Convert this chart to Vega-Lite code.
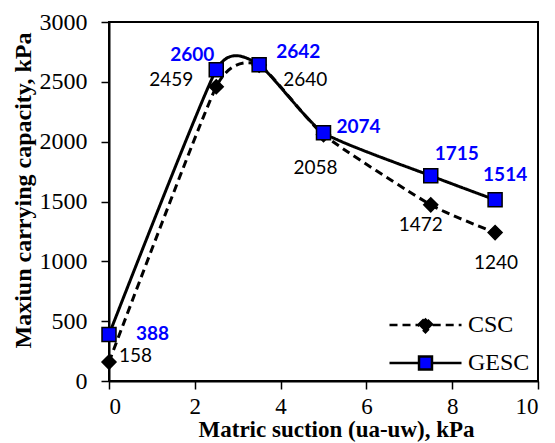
{
  "$schema": "https://vega.github.io/schema/vega-lite/v6.json",
  "width": 429,
  "height": 359,
  "autosize": {"type": "none"},
  "padding": {"left": 109, "top": 22, "right": 17, "bottom": 62},
  "background": "white",
  "config": {
    "view": {"stroke": "black", "strokeWidth": 2},
    "axis": {
      "domainColor": "black", "domainWidth": 2, "tickColor": "black", "tickWidth": 1.5, "tickSize": 8,
      "labelFont": "Liberation Serif", "labelFontSize": 24, "labelColor": "black",
      "titleFont": "Liberation Serif", "titleFontWeight": "bold", "titleColor": "black",
      "grid": false, "format": "d"
    }
  },
  "data": {"values": [
    {"series": "CSC", "x": 0, "y": 158},
    {"series": "CSC", "x": 2.5, "y": 2459},
    {"series": "CSC", "x": 3.5, "y": 2640},
    {"series": "CSC", "x": 5, "y": 2058},
    {"series": "CSC", "x": 7.5, "y": 1472},
    {"series": "CSC", "x": 9, "y": 1240},
    {"series": "GESC", "x": 0, "y": 388},
    {"series": "GESC", "x": 2.5, "y": 2600},
    {"series": "GESC", "x": 3.5, "y": 2642},
    {"series": "GESC", "x": 5, "y": 2074},
    {"series": "GESC", "x": 7.5, "y": 1715},
    {"series": "GESC", "x": 9, "y": 1514}
  ]},
  "encoding": {
    "x": {"field": "x", "type": "quantitative", "scale": {"domain": [0, 10], "nice": false},
      "axis": {"values": [0, 2, 4, 6, 8, 10], "labelFontSize": 23, "labelPadding": 6, "titlePadding": 0, "titleFontSize": 23, "titleX": 227, "title": "Matric suction (ua-uw), kPa"}},
    "y": {"field": "y", "type": "quantitative", "scale": {"domain": [0, 3000], "nice": false},
      "axis": {"values": [0, 500, 1000, 1500, 2000, 2500, 3000], "labelPadding": 14, "titlePadding": 4, "titleFontSize": 24, "titleY": 168, "title": "Maxiun carrying capacity, kPa"}}
  },
  "layer": [
    {
      "mark": {"type": "line", "interpolate": "cardinal", "tension": 0.45, "color": "black", "strokeWidth": 3},
      "encoding": {
        "detail": {"field": "series"},
        "strokeDash": {"field": "series", "type": "nominal",
          "scale": {"domain": ["CSC", "GESC"], "range": [[8, 5], [1, 0]]},
          "legend": {
            "title": null, "orient": "none", "legendX": 279, "legendY": 284,
            "symbolType": "M-1,0H-0.18M-0.18,-0.18H0.18V0.18H-0.18ZM0.18,0H1",
            "symbolSize": 5184, "symbolStrokeWidth": 2.5, "symbolStrokeColor": "black",
            "labelFont": "Liberation Serif", "labelFontSize": 24, "labelColor": "black", "labelOffset": 5,
            "rowPadding": 0, "clipHeight": 38,
            "encode": {"symbols": {"update": {
              "shape": {"signal": "datum.value === 'CSC' ? 'M-1,0H-0.2M-0.2,0L0,-0.2L0.2,0L0,0.2ZM0.2,0H1' : 'M-1,0H-0.18M-0.18,-0.18H0.18V0.18H-0.18ZM0.18,0H1'"},
              "fill": {"signal": "datum.value === 'CSC' ? 'black' : '#0000FF'"},
              "stroke": {"value": "black"},
              "fillOpacity": {"value": 1}
            }}}
          }}
      }
    },
    {
      "transform": [{"filter": "datum.series === 'CSC'"}],
      "mark": {"type": "point", "shape": "diamond", "filled": true, "fill": "black", "stroke": "black", "strokeWidth": 1.5, "opacity": 1, "size": 196},
      "encoding": {}
    },
    {
      "transform": [{"filter": "datum.series === 'GESC'"}],
      "mark": {"type": "point", "shape": "square", "filled": true, "fill": "#0000FF", "stroke": "black", "strokeWidth": 1.5, "opacity": 1, "size": 196},
      "encoding": {}
    },
    {"transform": [{"filter": "datum.series === 'GESC' && datum.x === 0"}],
     "mark": {"type": "text", "font": "Lato", "fontSize": 19, "fontWeight": "bold", "color": "#0000FF", "align": "left", "baseline": "middle", "dx": 27, "dy": -1},
     "encoding": {"text": {"field": "y"}}},
    {"transform": [{"filter": "datum.series === 'GESC' && datum.x === 2.5"}],
     "mark": {"type": "text", "font": "Lato", "fontSize": 19, "fontWeight": "bold", "color": "#0000FF", "align": "right", "baseline": "middle", "dx": -2, "dy": -15},
     "encoding": {"text": {"field": "y"}}},
    {"transform": [{"filter": "datum.series === 'GESC' && datum.x === 3.5"}],
     "mark": {"type": "text", "font": "Lato", "fontSize": 19, "fontWeight": "bold", "color": "#0000FF", "align": "left", "baseline": "middle", "dx": 17, "dy": -13},
     "encoding": {"text": {"field": "y"}}},
    {"transform": [{"filter": "datum.series === 'GESC' && datum.x === 5"}],
     "mark": {"type": "text", "font": "Lato", "fontSize": 19, "fontWeight": "bold", "color": "#0000FF", "align": "left", "baseline": "middle", "dx": 13, "dy": -6},
     "encoding": {"text": {"field": "y"}}},
    {"transform": [{"filter": "datum.series === 'GESC' && datum.x === 7.5"}],
     "mark": {"type": "text", "font": "Lato", "fontSize": 19, "fontWeight": "bold", "color": "#0000FF", "align": "left", "baseline": "middle", "dx": 4, "dy": -22},
     "encoding": {"text": {"field": "y"}}},
    {"transform": [{"filter": "datum.series === 'GESC' && datum.x === 9"}],
     "mark": {"type": "text", "font": "Lato", "fontSize": 19, "fontWeight": "bold", "color": "#0000FF", "align": "left", "baseline": "middle", "dx": -12, "dy": -25},
     "encoding": {"text": {"field": "y"}}},
    {"transform": [{"filter": "datum.series === 'CSC' && datum.x === 0"}],
     "mark": {"type": "text", "font": "Lato", "fontSize": 19, "color": "black", "align": "left", "baseline": "middle", "dx": 10, "dy": -6},
     "encoding": {"text": {"field": "y"}}},
    {"transform": [{"filter": "datum.series === 'CSC' && datum.x === 2.5"}],
     "mark": {"type": "text", "font": "Lato", "fontSize": 19, "color": "black", "align": "right", "baseline": "middle", "dx": -23, "dy": -7},
     "encoding": {"text": {"field": "y"}}},
    {"transform": [{"filter": "datum.series === 'CSC' && datum.x === 3.5"}],
     "mark": {"type": "text", "font": "Lato", "fontSize": 19, "color": "black", "align": "left", "baseline": "middle", "dx": 24, "dy": 15},
     "encoding": {"text": {"field": "y"}}},
    {"transform": [{"filter": "datum.series === 'CSC' && datum.x === 5"}],
     "mark": {"type": "text", "font": "Lato", "fontSize": 19, "color": "black", "align": "center", "baseline": "middle", "dx": -8, "dy": 33},
     "encoding": {"text": {"field": "y"}}},
    {"transform": [{"filter": "datum.series === 'CSC' && datum.x === 7.5"}],
     "mark": {"type": "text", "font": "Lato", "fontSize": 19, "color": "black", "align": "center", "baseline": "middle", "dx": -10, "dy": 20},
     "encoding": {"text": {"field": "y"}}},
    {"transform": [{"filter": "datum.series === 'CSC' && datum.x === 9"}],
     "mark": {"type": "text", "font": "Lato", "fontSize": 19, "color": "black", "align": "center", "baseline": "middle", "dx": 1, "dy": 30},
     "encoding": {"text": {"field": "y"}}}
  ]
}
